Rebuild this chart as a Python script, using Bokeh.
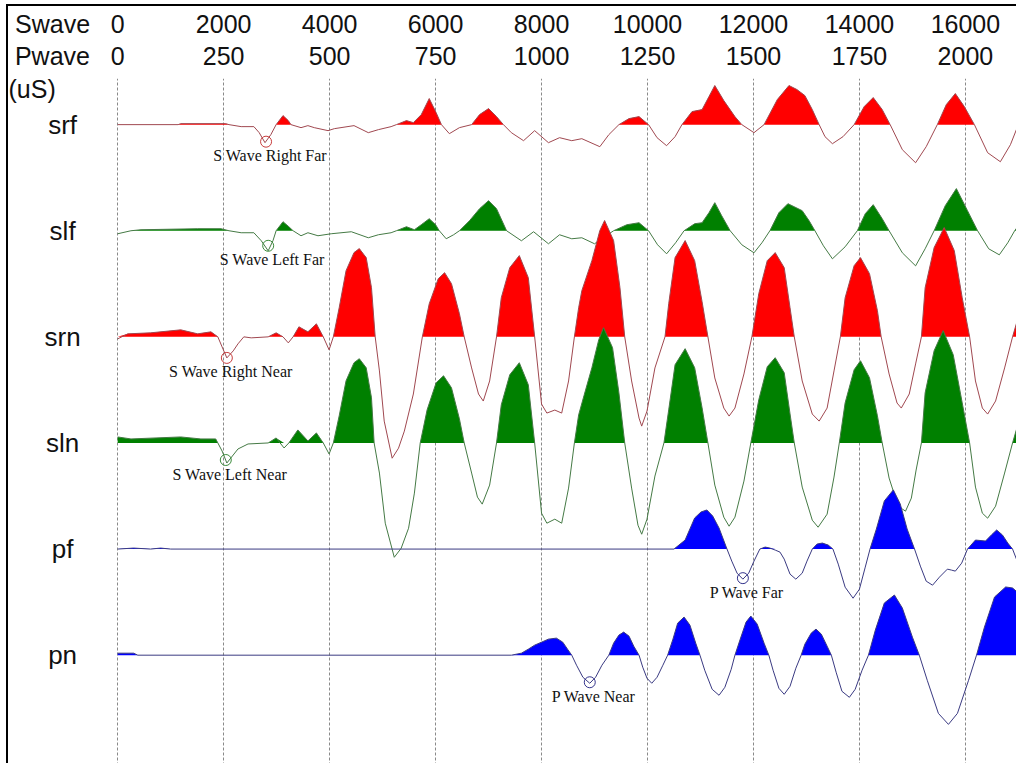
import numpy as np
from bokeh.plotting import figure
from bokeh.models import Range1d, LinearAxis, FixedTicker, Grid
from bokeh.core.properties import value
from bokeh.embed import file_html
from bokeh.resources import INLINE

# ---------------- data (time in S-wave microseconds, amplitude in arbitrary units) -------------
swave_ticks = [0, 2000, 4000, 6000, 8000, 10000, 12000, 14000, 16000]
pwave_ticks = [0, 250, 500, 750, 1000, 1250, 1500, 1750, 2000]
trace_names = ["srf", "slf", "srn", "sln", "pf", "pn"]

srf_t = [0, 1140, 1190, 2040, 2100, 2330, 2570, 2670, 2780, 2890, 2990, 3120, 3220, 3270, 3460,
         3590, 3710, 3970, 4090, 4460, 4730, 4920, 5160, 5260, 5450, 5580, 5730, 5880, 6010, 6110,
         6260, 6450, 6680, 6830, 7000, 7150, 7280, 7430, 7660, 7870, 8130, 8340, 8570, 8760, 9100,
         9270, 9460, 9650, 9840, 10020, 10180, 10360, 10520, 10650, 10840, 11030, 11160, 11270, 11440, 11650,
         11780, 12010, 12200, 12450, 12670, 12820, 12970, 13110, 13240, 13350, 13490, 13690, 13900, 14090, 14260,
         14430, 14580, 14810, 15060, 15260, 15470, 15640, 15810, 15980, 16170, 16420, 16660, 16850, 17000]
srf_amp = [0, 0, 1, 1, 0, -2, -2, -8, -18, -10, 0, 9, 4, 0, -3,
           -1, -3, -6, -4, -1, -8, -5, -2, 0, 4, 2, 10, 26, 12, 0,
           -9, -3, 0, 10, 16, 8, 0, -8, -16, -6, -18, -13, -16, -14, -22,
           -10, 0, 6, 8, 0, -13, -21, -12, 0, 13, 15, 28, 39, 24, 8,
           0, -8, 0, 25, 39, 35, 29, 15, 0, -12, -19, -12, 0, 18, 27,
           15, 0, -25, -38, -22, 0, 20, 31, 18, 0, -28, -37, -20, 0]

slf_t = [0, 250, 440, 1510, 1950, 2100, 2330, 2570, 2710, 2840, 2930, 2990, 3120, 3230, 3310,
         3460, 3590, 3780, 4030, 4410, 4730, 4920, 5160, 5260, 5450, 5600, 5730, 5880, 6000, 6070,
         6200, 6340, 6450, 6640, 6830, 7000, 7150, 7340, 7620, 7850, 8130, 8340, 8570, 8760, 9000,
         9190, 9360, 9610, 9840, 10020, 10190, 10360, 10530, 10690, 10890, 11030, 11160, 11270, 11400, 11560,
         11780, 12010, 12160, 12310, 12480, 12650, 12920, 13050, 13160, 13320, 13490, 13730, 13960, 14110, 14260,
         14430, 14560, 14810, 15060, 15240, 15410, 15620, 15830, 16040, 16230, 16440, 16640, 16800, 16930, 17000]
slf_amp = [-3, 0, 1, 2, 2, 0, -2, -2, -10, -20, -10, 0, 9, 4, 0,
           -5, -2, -5, -3, -1, -7, -4, -2, 0, 4, 1, 6, 12, 6, 0,
           -8, -4, 0, 10, 22, 30, 22, 0, -10, -1, -13, -4, -8, -7, -13,
           -6, 0, 6, 8, 0, -14, -23, -12, 0, 7, 8, 18, 28, 15, 0,
           -14, -22, -12, 0, 18, 27, 20, 10, 0, -15, -28, -16, 0, 17, 26,
           12, 0, -22, -35, -18, 0, 25, 42, 20, 0, -18, -24, -12, 0, 5]

srn_t = [0, 190, 620, 1190, 1510, 1760, 1890, 1970, 2060, 2180, 2270, 2380, 2520, 2840, 2990,
         3120, 3220, 3310, 3420, 3590, 3750, 3880, 3990,
         4070, 4180, 4310, 4460, 4560, 4690, 4790, 4860, 4940, 5030, 5180, 5300, 5410, 5580, 5750,
         5880, 6050, 6170, 6300, 6450, 6540, 6680, 6810, 6900, 7020, 7150,
         7240, 7400, 7580, 7750, 7870, 8000, 8100, 8250, 8380, 8510, 8620,
         8700, 8760, 8950, 9100, 9190, 9360, 9480, 9570, 9700, 9840, 9890, 9990, 10140, 10330,
         10400, 10520, 10710, 10890, 11030, 11140, 11270, 11440, 11540, 11650, 11820, 11970,
         12100, 12260, 12410, 12580, 12690, 12770, 12920, 13110, 13240, 13390, 13520, 13640,
         13730, 13900, 14020, 14190, 14340, 14410, 14560, 14710, 14790, 14940, 15060, 15170,
         15240, 15410, 15600, 15790, 15940, 16080, 16190, 16320, 16420, 16570, 16740, 16890, 17000]
srn_amp = [-2, 3, 4, 7, 3, 5, 0, -10, -21, -14, -7, 0, -1, 0, 4,
           0, -6, 0, 10, 5, 13, 0, -13,
           0, 29, 66, 84, 88, 79, 49, 0, -34, -84, -121, -111, -94, -57, 0,
           33, 58, 64, 53, 23, 0, -31, -57, -64, -44, 0,
           39, 69, 81, 59, 0, -67, -76, -73, -76, -44, 0,
           29, 46, 76, 106, 116, 96, 49, 0, -44, -81, -89, -74, -31, 0,
           33, 79, 96, 76, 35, 0, -41, -71, -79, -71, -37, 0,
           43, 76, 84, 69, 29, 0, -44, -77, -84, -71, -34, 0,
           39, 71, 79, 63, 26, 0, -37, -66, -71, -57, -27, 0,
           49, 89, 109, 86, 39, 0, -44, -71, -77, -64, -31, 0, 20]

sln_t = [0, 250, 1190, 1570, 1850, 1890, 1970, 2060, 2180, 2270, 2460, 2840, 2990, 3140, 3230,
         3400, 3590, 3750, 3880, 3990,
         4070, 4180, 4310, 4460, 4560, 4690, 4790, 4840, 4940, 5050, 5220, 5350, 5490, 5600, 5710,
         5840, 6010, 6150, 6300, 6450, 6540, 6680, 6790, 6880, 7020, 7150,
         7240, 7400, 7580, 7750, 7870, 8000, 8100, 8250, 8380, 8510, 8620,
         8700, 8800, 8950, 9080, 9170, 9340, 9460, 9570, 9700, 9820, 9890, 9990, 10140, 10310,
         10400, 10520, 10710, 10890, 11030, 11140, 11270, 11440, 11540, 11650, 11820, 11950,
         12100, 12260, 12410, 12580, 12690, 12770, 12920, 13110, 13220, 13390, 13520, 13620,
         13730, 13900, 14020, 14190, 14340, 14430, 14560, 14730, 14870, 14980, 15070, 15170,
         15240, 15410, 15580, 15770, 15940, 16080, 16190, 16320, 16420, 16570, 16740, 16890, 17000]
sln_amp = [6, 4, 6, 4, 4, 0, -8, -20, -12, -6, -1, 0, 5, -5, 0,
           13, 2, 10, 0, -11,
           0, 27, 62, 80, 84, 75, 45, 0, -30, -80, -114, -105, -85, -50, 0,
           33, 60, 67, 55, 24, 0, -30, -54, -61, -42, 0,
           38, 68, 80, 58, 0, -70, -80, -76, -80, -45, 0,
           28, 47, 75, 103, 115, 95, 50, 0, -45, -82, -91, -76, -33, 0,
           33, 78, 94, 75, 35, 0, -42, -74, -83, -74, -38, 0,
           43, 76, 85, 70, 29, 0, -44, -77, -84, -71, -34, 0,
           40, 73, 82, 65, 27, 0, -35, -63, -68, -55, -27, 0,
           50, 92, 112, 88, 40, 0, -44, -70, -75, -63, -30, 0, 20]

pf_t = [0, 300, 620, 810, 1000, 10500, 10710, 10890, 11010, 11120, 11230, 11350, 11500,
        11590, 11690, 11800, 11910, 12010, 12120, 12220, 12310, 12410, 12500, 12580, 12690, 12800,
        12920, 13010, 13110, 13200, 13300, 13410, 13500, 13600, 13730, 13880, 14000, 14110, 14200,
        14320, 14470, 14640, 14770, 14900, 15040, 15150, 15260, 15380, 15510, 15660, 15740, 15810,
        15930, 16040, 16190, 16380, 16490, 16590, 16700, 16800, 16890, 17000]
pf_amp = [0, 1, 0, 1, 0, 0, 9, 31, 37, 39, 33, 21, 0,
          -12, -24, -30, -24, -12, 0, 2, 1, -1, -3, -10, -25, -30,
          -24, -12, 0, 5, 6, 4, 0, -15, -38, -49, -40, -18, 0,
          20, 48, 59, 45, 20, 0, -17, -32, -36, -28, -20, -21, -22,
          -14, 0, 9, 8, 14, 19, 14, 6, 0, -15]

pn_t = [0, 300, 380, 7430, 7620, 7750, 7870, 8000, 8130, 8280, 8400, 8490, 8570,
        8660, 8780, 8910, 9020, 9140, 9270, 9360, 9460, 9550, 9650, 9740, 9840,
        9910, 9990, 10080, 10180, 10290, 10380, 10480, 10570, 10690, 10800, 10910, 10990,
        11080, 11220, 11350, 11460, 11580, 11650, 11750, 11860, 11950, 12070, 12200, 12290,
        12370, 12480, 12580, 12690, 12800, 12900, 12970, 13090, 13180, 13280, 13390, 13470,
        13560, 13670, 13810, 13920, 14050, 14170, 14300, 14470, 14660, 14810, 15000, 15130,
        15280, 15490, 15680, 15850, 16060, 16210, 16360, 16550, 16760, 16890, 17000]
pn_amp = [2, 2, 0, 0, 2, 6, 10, 13, 16, 17, 13, 6, 0,
          -10, -22, -28, -22, -10, 0, 12, 20, 23, 19, 9, 0,
          -12, -23, -28, -22, -10, 0, 16, 32, 38, 30, 12, 0,
          -15, -34, -40, -32, -14, 0, 16, 33, 39, 31, 12, 0,
          -15, -33, -39, -31, -13, 0, 11, 22, 26, 21, 9, 0,
          -17, -36, -42, -34, -15, 0, 25, 52, 60, 47, 18, 0,
          -25, -58, -69, -58, -25, 0, 28, 58, 68, 67, 62]

# picked arrivals
ann_trace = [0, 1, 2, 3, 4, 5]
ann_t = [2800, 2840, 2060, 2040, 11800, 8910]
ann_amp = [-17, -15, -21, -17, -29, -27]
ann_text = ["S Wave Right Far", "S Wave Left Far", "S Wave Right Near",
            "S Wave Left Near", "P Wave Far", "P Wave Near"]

# ---------------- styling / layout ----------------
RED, GREEN, BLUE = "#ff0000", "#008000", "#0000ff"
RED_LINE, GREEN_LINE, BLUE_LINE = "#a04850", "#457a45", "#3a3a82"
fills = [RED, GREEN, RED, GREEN, BLUE, BLUE]
lines = [RED_LINE, GREEN_LINE, RED_LINE, GREEN_LINE, BLUE_LINE, BLUE_LINE]
marker_cols = ["#c83c3c", "#3c8c3c", "#c83c3c", "#3c8c3c", "#34348c", "#34348c"]
series_t = [srf_t, slf_t, srn_t, sln_t, pf_t, pn_t]
series_a = [srf_amp, slf_amp, srn_amp, sln_amp, pf_amp, pn_amp]

W, H = 1008, 757
TOP = 72
PX_PER_US = 846.0 / 16000.0
x_start = -109.0 / PX_PER_US
x_end = x_start + W / PX_PER_US
SPACING = 105.8
y_top = 46.0
y_bottom = y_top - (H - TOP)
baselines = [-i * SPACING for i in range(len(trace_names))]

p = figure(width=W, height=H, output_backend="svg", toolbar_location=None,
           x_range=Range1d(x_start, x_end), y_range=Range1d(y_bottom, y_top),
           x_axis_location=None, y_axis_location=None,
           min_border_top=TOP, min_border_left=0, min_border_right=0, min_border_bottom=0,
           background_fill_color="white", border_fill_color="white",
           outline_line_color=None,
           styles={"border-top": "2px solid black", "border-left": "2px solid black",
                   "margin-left": "6px", "margin-top": "4px",
                   "box-sizing": "content-box"})
p.xgrid.visible = False
p.ygrid.visible = False
p.extra_x_ranges = {"pwave": Range1d(x_start / 8.0, x_end / 8.0)}

SW_LABEL = -1230
PW_LABEL = -154
pw_axis = LinearAxis(x_range_name="pwave",
                     ticker=FixedTicker(ticks=[PW_LABEL] + pwave_ticks, minor_ticks=[]),
                     major_label_overrides={PW_LABEL: "Pwave"})
sw_axis = LinearAxis(ticker=FixedTicker(ticks=[SW_LABEL] + swave_ticks, minor_ticks=[]),
                     major_label_overrides={SW_LABEL: "Swave"})
for ax, stand in ((pw_axis, 9), (sw_axis, 1)):
    ax.axis_line_color = None
    ax.major_tick_line_color = None
    ax.minor_tick_line_color = None
    ax.major_tick_out = 0
    ax.major_tick_in = 0
    ax.minor_tick_out = 0
    ax.minor_tick_in = 0
    ax.major_label_standoff = stand
    ax.major_label_text_font = "Liberation Sans"
    ax.major_label_text_font_size = "25px"
    ax.major_label_text_color = "#111111"
p.add_layout(pw_axis, "above")
p.add_layout(sw_axis, "above")

grid = Grid(dimension=0, ticker=FixedTicker(ticks=swave_ticks, minor_ticks=[]),
            grid_line_color="#8a8a8a", grid_line_dash="3 2", grid_line_width=1)
p.add_layout(grid)

for i in range(len(trace_names)):
    t = np.asarray(series_t[i], dtype=float)
    a = np.asarray(series_a[i], dtype=float)
    base = baselines[i]
    p.varea(x=t, y1=np.full_like(t, base), y2=base + np.maximum(a, 0.0),
            fill_color=fills[i], fill_alpha=1.0)
    p.line(t, base + a, line_color=lines[i], line_width=1)

# channel names
p.text(x=[-1040] * len(trace_names), y=baselines, text=trace_names,
       text_align="center", text_baseline="middle",
       text_font=value("Liberation Sans"), text_font_size=value("26px"), text_color="#111111")
p.text(x=[x_start], y=[36], text=["(uS)"], text_align="left", text_baseline="middle",
       text_font=value("Liberation Sans"), text_font_size=value("25px"), text_color="#111111")

# picked arrivals
ann_x = ann_t
ann_y = [baselines[k] + v for k, v in zip(ann_trace, ann_amp)]
p.scatter(x=ann_x, y=ann_y, marker="circle", size=11, fill_color=None,
          line_color=[marker_cols[k] for k in ann_trace], line_width=1)
p.text(x=ann_x, y=ann_y, text=ann_text, x_offset=4, y_offset=14,
       text_align="center", text_baseline="middle",
       text_font=value("Liberation Serif"), text_font_size=value("16px"), text_color="#111111")

open("out.html", "w").write(file_html(p, INLINE))
